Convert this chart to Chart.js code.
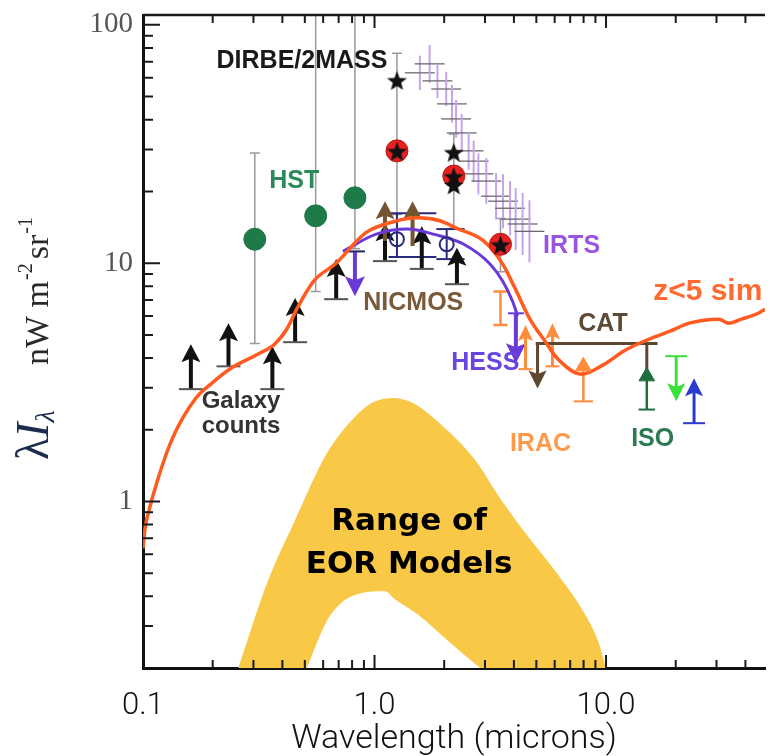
<!DOCTYPE html>
<html lang="en">
<head>
  <meta charset="UTF-8" />
  <title>Extragalactic background light</title>
  <script src="https://cdn.jsdelivr.net/npm/chart.js"></script>
  <style>
    html, body { margin: 0; padding: 0; background: #fff; }
    #grafico { display: block; }
  </style>
</head>
<body>
  <canvas id="grafico" width="777" height="756"></canvas>

  <script>
    // wavelength in microns, lambda*I_lambda in nW m^-2 sr^-1
    var xTickValues = [0.1, 1, 10];
    var xTickText = ['0.1', '1.0', '10.0'];
    var yTickValues = [1, 10, 100];
    var yTickText = ['1', '10', '100'];

    // z<5 simulation (orange curve)
    var simLambda = [0.1, 0.102, 0.105, 0.115, 0.134, 0.169, 0.198, 0.24, 0.313, 0.37, 0.42, 0.463, 0.546, 0.683, 0.915,
      1.23, 1.54, 1.9, 2.27, 2.96, 3.58, 4.04, 4.67, 5.46, 6.15, 7.84, 9.81, 11.9, 14.5, 18.9, 22.9, 30.7, 33.9, 38.5, 45.4, 48.6];
    var simFlux = [0.635, 0.77, 0.88, 1.21, 1.84, 2.71, 3.13, 3.62, 4.15, 4.57, 5.33, 6.46, 8.41, 10, 13.4,
      15, 15.5, 15.1, 14.0, 12.4, 9.9, 7.86, 5.87, 4.69, 3.99, 3.42, 3.76, 4.27, 4.69, 5.18, 5.6, 5.82, 5.6, 5.82, 6.16, 6.41];

    // model curve (purple)
    var modelLambda = [0.73, 1.01, 1.39, 1.81, 2.43, 3.16, 3.58, 3.95, 4.15];
    var modelFlux = [11.2, 13.2, 13.9, 13.2, 12.0, 9.9, 8.4, 6.9, 6.0];

    // range of EOR models (yellow band: outer and inner edge)
    var eorOuterLambda = [0.258, 0.345, 0.45, 0.62, 0.81, 0.98, 1.2, 1.45, 1.94, 2.68, 3.49, 4.67, 6.23, 7.84, 9.26, 10];
    var eorOuterFlux = [0.2, 0.46, 0.82, 1.58, 2.23, 2.6, 2.72, 2.6, 2.1, 1.52, 1.03, 0.70, 0.49, 0.355, 0.258, 0.2];
    var eorInnerLambda = [0.51, 0.62, 0.73, 0.855, 1.11, 1.22, 1.54, 1.94, 2.43, 2.86];
    var eorInnerFlux = [0.2, 0.313, 0.38, 0.41, 0.42, 0.39, 0.335, 0.276, 0.228, 0.2];

    // HST
    var hstLambda = [0.304, 0.557, 0.823];
    var hstFlux = [12.6, 15.8, 18.8];
    var hstLow = [4.6, 7.6, 11.5];
    var hstHigh = [29, 200, 200];

    // DIRBE/2MASS
    var dirbeStarLambda = [1.25, 2.2, 2.2];
    var dirbeStarFlux = [58.7, 29.3, 21.4];
    var dirbeRedLambda = [1.25, 2.2, 3.5];
    var dirbeRedFlux = [29.6, 23.2, 12.0];
    var dirbeBarLambda = [1.25, 2.2, 3.5];
    var dirbeBarLow = [16, 14, 9.2];
    var dirbeBarHigh = [76, 34.8, 15.4];

    // galaxy counts, lower limits (black arrows)
    var countsLambda = [0.161, 0.234, 0.362, 0.454, 0.683, 1.11, 1.6, 2.27];
    var countsFlux = [2.96, 3.69, 2.96, 4.66, 7.06, 10.2, 9.46, 8.16];
    var countsTip = [4.57, 5.6, 4.48, 7.14, 10.4, 14.7, 14.3, 11.6];

    // NICMOS lower limits (brown arrows)
    var nicmosLambda = [1.11, 1.46];
    var nicmosFlux = [12.4, 11.8];
    var nicmosTip = [18.2, 18.2];

    // open circles with error boxes
    var openLambda = [1.25, 2.05];
    var openFlux = [12.6, 12.0];
    var openLow = [10.6, 10.4];
    var openHigh = [16.2, 13.9];
    var openLambdaLow = [1.15, 1.85];
    var openLambdaHigh = [1.85, 2.45];

    // upper limits (purple arrows), the second one is HESS
    var upperLambda = [0.823, 4.08];
    var upperFlux = [11.2, 6.16];
    var upperTip = [7.27, 3.8];

    // IRTS
    var irtsLambda = [1.57, 1.73, 1.87, 2.04, 2.16, 2.25, 2.38, 2.55, 2.68, 2.81, 3.04, 3.35, 3.59, 3.85, 4.07, 4.36, 4.67];
    var irtsFlux = [62.9, 68.6, 58.2, 53.8, 46.6, 40.3, 35.2, 29.6, 26.8, 23.7, 22.1, 19.1, 18.2, 17.0, 15.3, 14.6, 13.6];
    var irtsFluxErr = [1.18, 1.2, 1.18, 1.18, 1.2, 1.2, 1.2, 1.2, 1.22, 1.22, 1.25, 1.25, 1.3, 1.3, 1.35, 1.35, 1.35];
    var irtsLambdaErr = 1.16;

    // IRAC
    var iracBarLambda = [3.5];
    var iracBarLow = [5.5];
    var iracBarHigh = [7.6];
    var iracLimLambda = [4.49, 5.87];
    var iracLimFlux = [3.59, 3.69];
    var iracLimTip = [5.5, 5.6];
    var iracLambda = [7.98];
    var iracFlux = [3.69];
    var iracLow = [2.63];

    // CAT
    var catLambdaLow = 4.97;
    var catLambdaHigh = 16.7;
    var catFlux = 4.6;
    var catLegLambda = [5.06, 15.0];
    var catLegTip = [2.98, 3.35];

    // ISO
    var isoLambda = [15.0];
    var isoFlux = [3.35];
    var isoLow = [2.43];

    // far IR limits (green upper, blue lower)
    var greenLambda = [20.1];
    var greenFlux = [4.07];
    var greenTip = [2.63];
    var blueLambda = [24];
    var blueFlux = [2.13];
    var blueTip = [3.29];

    function pts(xs, ys) {
      var out = [];
      for (var i = 0; i < xs.length; i++) {
        out.push({ x: xs[i], y: ys[i] });
      }
      return out;
    }

    function makeStar(size, color) {
      var c = document.createElement('canvas');
      c.width = size;
      c.height = size;
      var g = c.getContext('2d');
      g.fillStyle = color;
      g.beginPath();
      for (var i = 0; i < 10; i++) {
        var r = i % 2 ? size * 0.21 : size * 0.5;
        var a = -Math.PI / 2 + i * Math.PI / 5;
        g.lineTo(size / 2 + r * Math.cos(a), size / 2 + 1.5 + r * Math.sin(a));
      }
      g.closePath();
      g.fill();
      return c;
    }

    var star = makeStar(21, '#111');

    function vbar(c, X, Y, lam, lo, hi, color, lw, cap) {
      var x = X.getPixelForValue(lam);
      var y0 = Y.getPixelForValue(lo);
      var y1 = Y.getPixelForValue(hi);
      c.strokeStyle = color;
      c.lineWidth = lw;
      c.beginPath();
      c.moveTo(x, y0);
      c.lineTo(x, y1);
      if (cap) {
        c.moveTo(x - cap / 2, y0);
        c.lineTo(x + cap / 2, y0);
        c.moveTo(x - cap / 2, y1);
        c.lineTo(x + cap / 2, y1);
      }
      c.stroke();
    }

    function hbar(c, X, Y, lamLo, lamHi, val, color, lw) {
      var y = Y.getPixelForValue(val);
      c.strokeStyle = color;
      c.lineWidth = lw;
      c.beginPath();
      c.moveTo(X.getPixelForValue(lamLo), y);
      c.lineTo(X.getPixelForValue(lamHi), y);
      c.stroke();
    }

    function arrow(c, X, Y, lam, from, to, color, o) {
      var x = X.getPixelForValue(lam);
      var y0 = Y.getPixelForValue(from);
      var y1 = Y.getPixelForValue(to);
      var d = y1 < y0 ? 1 : -1;
      c.strokeStyle = color;
      c.lineWidth = o.lw;
      c.beginPath();
      c.moveTo(x, y0);
      c.lineTo(x, y1 + d * o.hl * 0.7);
      c.stroke();
      c.fillStyle = color;
      c.beginPath();
      c.moveTo(x, y1);
      c.lineTo(x - o.hw / 2, y1 + d * o.hl);
      c.lineTo(x, y1 + d * o.hl * 0.8);
      c.lineTo(x + o.hw / 2, y1 + d * o.hl);
      c.closePath();
      c.fill();
      if (o.cap) {
        c.strokeStyle = o.capColor || color;
        c.lineWidth = 2;
        c.beginPath();
        c.moveTo(x - o.cap / 2, y0);
        c.lineTo(x + o.cap / 2, y0);
        c.stroke();
      }
    }

    function label(c, X, Y, text, lam, val, font, color) {
      c.font = font;
      c.fillStyle = color;
      c.textAlign = 'center';
      c.textBaseline = 'middle';
      c.fillText(text, X.getPixelForValue(lam), Y.getPixelForValue(val));
    }

    var errorBars = {
      id: 'errorBars',
      beforeDatasetsDraw: function(chart) {
        var X = chart.scales.x, Y = chart.scales.y, c = chart.ctx, a = chart.chartArea;
        var i;
        c.save();
        c.beginPath();
        c.rect(a.left, a.top, a.right - a.left, a.bottom - a.top);
        c.clip();

        for (i = 0; i < hstLambda.length; i++) {
          vbar(c, X, Y, hstLambda[i], hstLow[i], hstHigh[i], '#9a9a9a', 1.5, 10);
        }
        for (i = 0; i < dirbeBarLambda.length; i++) {
          vbar(c, X, Y, dirbeBarLambda[i], dirbeBarLow[i], dirbeBarHigh[i], '#9a9a9a', 1.5, 10);
        }

        for (i = 0; i < irtsLambda.length; i++) {
          vbar(c, X, Y, irtsLambda[i], irtsFlux[i] / irtsFluxErr[i], irtsFlux[i] * irtsFluxErr[i], '#c7a3ee', 2, 0);
          hbar(c, X, Y, irtsLambda[i] / irtsLambdaErr, irtsLambda[i] * irtsLambdaErr, irtsFlux[i], '#6a6a6a', 1.3);
        }

        for (i = 0; i < openLambda.length; i++) {
          hbar(c, X, Y, openLambdaLow[i], openLambdaHigh[i], openLow[i], '#2b2b7e', 2);
          hbar(c, X, Y, openLambdaLow[i], openLambdaHigh[i], openHigh[i], '#2b2b7e', 2);
          vbar(c, X, Y, openLambda[i], openLow[i], openHigh[i], '#2b2b7e', 2, 0);
        }

        for (i = 0; i < countsLambda.length; i++) {
          arrow(c, X, Y, countsLambda[i], countsFlux[i], countsTip[i], '#111', { lw: 4, hw: 19, hl: 18, cap: 24, capColor: '#555' });
        }
        for (i = 0; i < nicmosLambda.length; i++) {
          arrow(c, X, Y, nicmosLambda[i], nicmosFlux[i], nicmosTip[i], '#75552f', { lw: 4, hw: 19, hl: 18 });
        }
        arrow(c, X, Y, upperLambda[0], upperFlux[0], upperTip[0], '#6a3ad8', { lw: 4, hw: 20, hl: 20, cap: 20, capColor: '#22226a' });
        arrow(c, X, Y, upperLambda[1], upperFlux[1], upperTip[1], '#6a3ad8', { lw: 4, hw: 20, hl: 20, cap: 16 });

        for (i = 0; i < iracBarLambda.length; i++) {
          vbar(c, X, Y, iracBarLambda[i], iracBarLow[i], iracBarHigh[i], '#ff8c3c', 2.5, 14);
        }
        for (i = 0; i < iracLimLambda.length; i++) {
          arrow(c, X, Y, iracLimLambda[i], iracLimFlux[i], iracLimTip[i], '#ff8c3c', { lw: 3, hw: 15, hl: 16, cap: 14 });
        }
        for (i = 0; i < iracLambda.length; i++) {
          vbar(c, X, Y, iracLambda[i], iracLow[i], iracFlux[i], '#ff8c3c', 2.5, 0);
          hbar(c, X, Y, iracLambda[i] / 1.1, iracLambda[i] * 1.1, iracLow[i], '#ff8c3c', 2);
        }

        hbar(c, X, Y, catLambdaLow, catLambdaHigh, catFlux, '#5e4832', 3);
        arrow(c, X, Y, catLegLambda[0], catFlux, catLegTip[0], '#5e4832', { lw: 3, hw: 18, hl: 18 });
        vbar(c, X, Y, catLegLambda[1], catLegTip[1], catFlux, '#5e4832', 3, 0);

        for (i = 0; i < isoLambda.length; i++) {
          vbar(c, X, Y, isoLambda[i], isoLow[i], isoFlux[i], '#1e6e40', 2.5, 0);
          hbar(c, X, Y, isoLambda[i] / 1.085, isoLambda[i] * 1.085, isoLow[i], '#1e6e40', 2);
        }
        for (i = 0; i < greenLambda.length; i++) {
          arrow(c, X, Y, greenLambda[i], greenFlux[i], greenTip[i], '#3be03b', { lw: 3, hw: 18, hl: 18, cap: 22 });
        }
        for (i = 0; i < blueLambda.length; i++) {
          arrow(c, X, Y, blueLambda[i], blueFlux[i], blueTip[i], '#2a3ad0', { lw: 3, hw: 18, hl: 18, cap: 22 });
        }
        c.restore();
      }
    };

    var decorations = {
      id: 'decorations',
      afterDraw: function(chart) {
        var X = chart.scales.x, Y = chart.scales.y, c = chart.ctx, a = chart.chartArea;
        var k, m, v, p;
        c.save();

        // top frame line
        c.strokeStyle = '#1a1a1a';
        c.lineWidth = 2.5;
        c.beginPath();
        c.moveTo(a.left, a.top);
        c.lineTo(a.right, a.top);
        c.stroke();

        // inward tick marks
        c.lineWidth = 2;
        c.beginPath();
        for (k = -1; k <= 1; k++) {
          for (m = 1; m <= 9; m++) {
            v = m * Math.pow(10, k);
            if (v <= X.min * 1.0001 || v >= X.max) continue;
            p = X.getPixelForValue(v);
            var lx = m === 1 ? 13 : 8;
            c.moveTo(p, a.bottom);
            c.lineTo(p, a.bottom - lx);
            c.moveTo(p, a.top);
            c.lineTo(p, a.top + lx);
          }
        }
        for (k = -1; k <= 2; k++) {
          for (m = 1; m <= 9; m++) {
            v = m * Math.pow(10, k);
            if (v <= Y.min * 1.0001 || v >= Y.max) continue;
            p = Y.getPixelForValue(v);
            c.moveTo(a.left, p);
            c.lineTo(a.left + (m === 1 ? 17 : 10), p);
          }
        }
        c.stroke();

        // annotations
        var bold = function(size) { return 'bold ' + size + 'px "Liberation Sans", Arial, sans-serif'; };
        label(c, X, Y, 'DIRBE/2MASS', 0.486, 70.5, bold(25), '#1a1a1a');
        label(c, X, Y, 'HST', 0.45, 22.1, bold(25), '#2b8a5a');
        label(c, X, Y, 'Galaxy', 0.265, 2.63, bold(24), '#333');
        label(c, X, Y, 'counts', 0.265, 2.07, bold(24), '#333');
        label(c, X, Y, 'NICMOS', 1.47, 6.8, bold(25), '#7a5a3a');
        label(c, X, Y, 'IRTS', 7.1, 11.8, bold(25), '#9a55e0');
        label(c, X, Y, 'z<5 sim', 27.5, 7.6, bold(30), '#ff6a30');
        label(c, X, Y, 'CAT', 9.7, 5.55, bold(25), '#5e4a36');
        label(c, X, Y, 'HESS', 3.01, 3.8, bold(25), '#6a44e0');
        label(c, X, Y, 'IRAC', 5.21, 1.74, bold(25), '#ff9a4a');
        label(c, X, Y, 'ISO', 15.9, 1.82, bold(25), '#2c7a52');
        label(c, X, Y, 'Range of', 1.41, 0.824, 'bold 31px "DejaVu Sans", sans-serif', '#000');
        label(c, X, Y, 'EOR Models', 1.41, 0.543, 'bold 31px "DejaVu Sans", sans-serif', '#000');

        // y axis title, rotated
        c.translate(48, 460);
        c.rotate(-Math.PI / 2);
        c.textAlign = 'left';
        c.textBaseline = 'alphabetic';
        var x = 0;
        c.fillStyle = '#1b2c4e';
        c.font = '46px "Liberation Serif", serif';
        c.fillText('λ', x, 0);
        x += c.measureText('λ').width;
        c.font = 'italic 46px "Liberation Serif", serif';
        c.fillText('I', x, 0);
        x += c.measureText('I').width;
        c.font = 'italic 28px "Liberation Serif", serif';
        c.fillText('λ', x, 6);
        x = 95;
        c.fillStyle = '#2a2a2a';
        c.font = '34px "Liberation Serif", serif';
        c.fillText('nW m', x, 0);
        x += c.measureText('nW m').width + 1;
        c.font = '20px "Liberation Serif", serif';
        c.fillText('-2', x, -16);
        x += c.measureText('-2').width + 4;
        c.font = '34px "Liberation Serif", serif';
        c.fillText('sr', x, 0);
        x += c.measureText('sr').width + 1;
        c.font = '20px "Liberation Serif", serif';
        c.fillText('-1', x, -16);
        c.restore();
      }
    };

    new Chart(document.getElementById('grafico'), {
      type: 'scatter',
      data: {
        datasets: [
          {
            type: 'line', label: 'EOR range', data: pts(eorOuterLambda, eorOuterFlux),
            fill: 'start', backgroundColor: '#f9c846', borderWidth: 0, pointRadius: 0,
            cubicInterpolationMode: 'monotone', order: 20
          },
          {
            type: 'line', label: 'EOR inner', data: pts(eorInnerLambda, eorInnerFlux),
            fill: 'start', backgroundColor: '#ffffff', borderWidth: 0, pointRadius: 0,
            cubicInterpolationMode: 'monotone', order: 19
          },
          {
            type: 'line', label: 'model', data: pts(modelLambda, modelFlux),
            borderColor: '#6a3ad8', borderWidth: 3, pointRadius: 0,
            cubicInterpolationMode: 'monotone', fill: false, order: 8
          },
          {
            type: 'line', label: 'z<5 sim', data: pts(simLambda, simFlux),
            borderColor: '#ff5a1f', borderWidth: 3.5, pointRadius: 0,
            cubicInterpolationMode: 'monotone', fill: false, order: 7
          },
          {
            label: 'HST', data: pts(hstLambda, hstFlux),
            pointStyle: 'circle', pointRadius: 11, backgroundColor: '#1f7a4a', borderColor: '#1f7a4a', order: 5
          },
          {
            label: 'open', data: pts(openLambda, openFlux),
            pointStyle: 'circle', pointRadius: 7, backgroundColor: 'rgba(255,255,255,0)', borderColor: '#2b2b7e', borderWidth: 2, order: 5
          },
          {
            label: 'DIRBE red', data: pts(dirbeRedLambda, dirbeRedFlux),
            pointStyle: 'circle', pointRadius: 11, backgroundColor: '#e82020', borderColor: '#b81414', borderWidth: 1, order: 4
          },
          {
            label: 'DIRBE star', data: pts(dirbeStarLambda.concat(dirbeRedLambda), dirbeStarFlux.concat(dirbeRedFlux)),
            pointStyle: star, pointRadius: 10, order: 1
          },
          {
            label: 'IRAC', data: pts(iracLambda, iracFlux),
            pointStyle: 'triangle', pointRadius: 9, backgroundColor: '#ff8c3c', borderColor: '#ff8c3c', order: 3
          },
          {
            label: 'ISO', data: pts(isoLambda, isoFlux),
            pointStyle: 'triangle', pointRadius: 9, backgroundColor: '#1e6e40', borderColor: '#1e6e40', order: 3
          }
        ]
      },
      options: {
        responsive: false,
        animation: false,
        layout: { padding: { top: 15, right: 0, bottom: 0, left: 0 } },
        plugins: {
          legend: { display: false },
          tooltip: { enabled: false }
        },
        scales: {
          x: {
            type: 'logarithmic',
            min: 0.1,
            max: 48.6,
            afterBuildTicks: function(s) {
              s.ticks = xTickValues.map(function(v) { return { value: v }; });
            },
            afterFit: function(s) {
              s.height = 88;
              s.paddingLeft = 0;
              s.paddingRight = 0;
            },
            ticks: {
              autoSkip: false,
              maxRotation: 0,
              padding: 20,
              color: '#111',
              font: { family: 'Roboto', size: 31, weight: '300' },
              callback: function(v, i) { return xTickText[i]; }
            },
            grid: { display: false, drawTicks: false },
            border: { display: true, color: '#111', width: 3 },
            title: {
              display: true,
              text: 'Wavelength (microns)',
              color: '#111',
              font: { family: 'Roboto', size: 34, weight: '300', lineHeight: 1 },
              padding: { top: 0, bottom: 0 }
            }
          },
          y: {
            type: 'logarithmic',
            min: 0.2,
            max: 110,
            afterBuildTicks: function(s) {
              s.ticks = yTickValues.map(function(v) { return { value: v }; });
            },
            afterFit: function(s) {
              s.width = 143;
              s.paddingTop = 0;
              s.paddingBottom = 0;
            },
            ticks: {
              padding: 10,
              color: '#555',
              font: { family: 'Liberation Serif', size: 29 },
              callback: function(v, i) { return yTickText[i]; }
            },
            grid: { display: false, drawTicks: false },
            border: { display: true, color: '#111', width: 3 }
          }
        }
      },
      plugins: [errorBars, decorations]
    });
  </script>
</body>
</html>
